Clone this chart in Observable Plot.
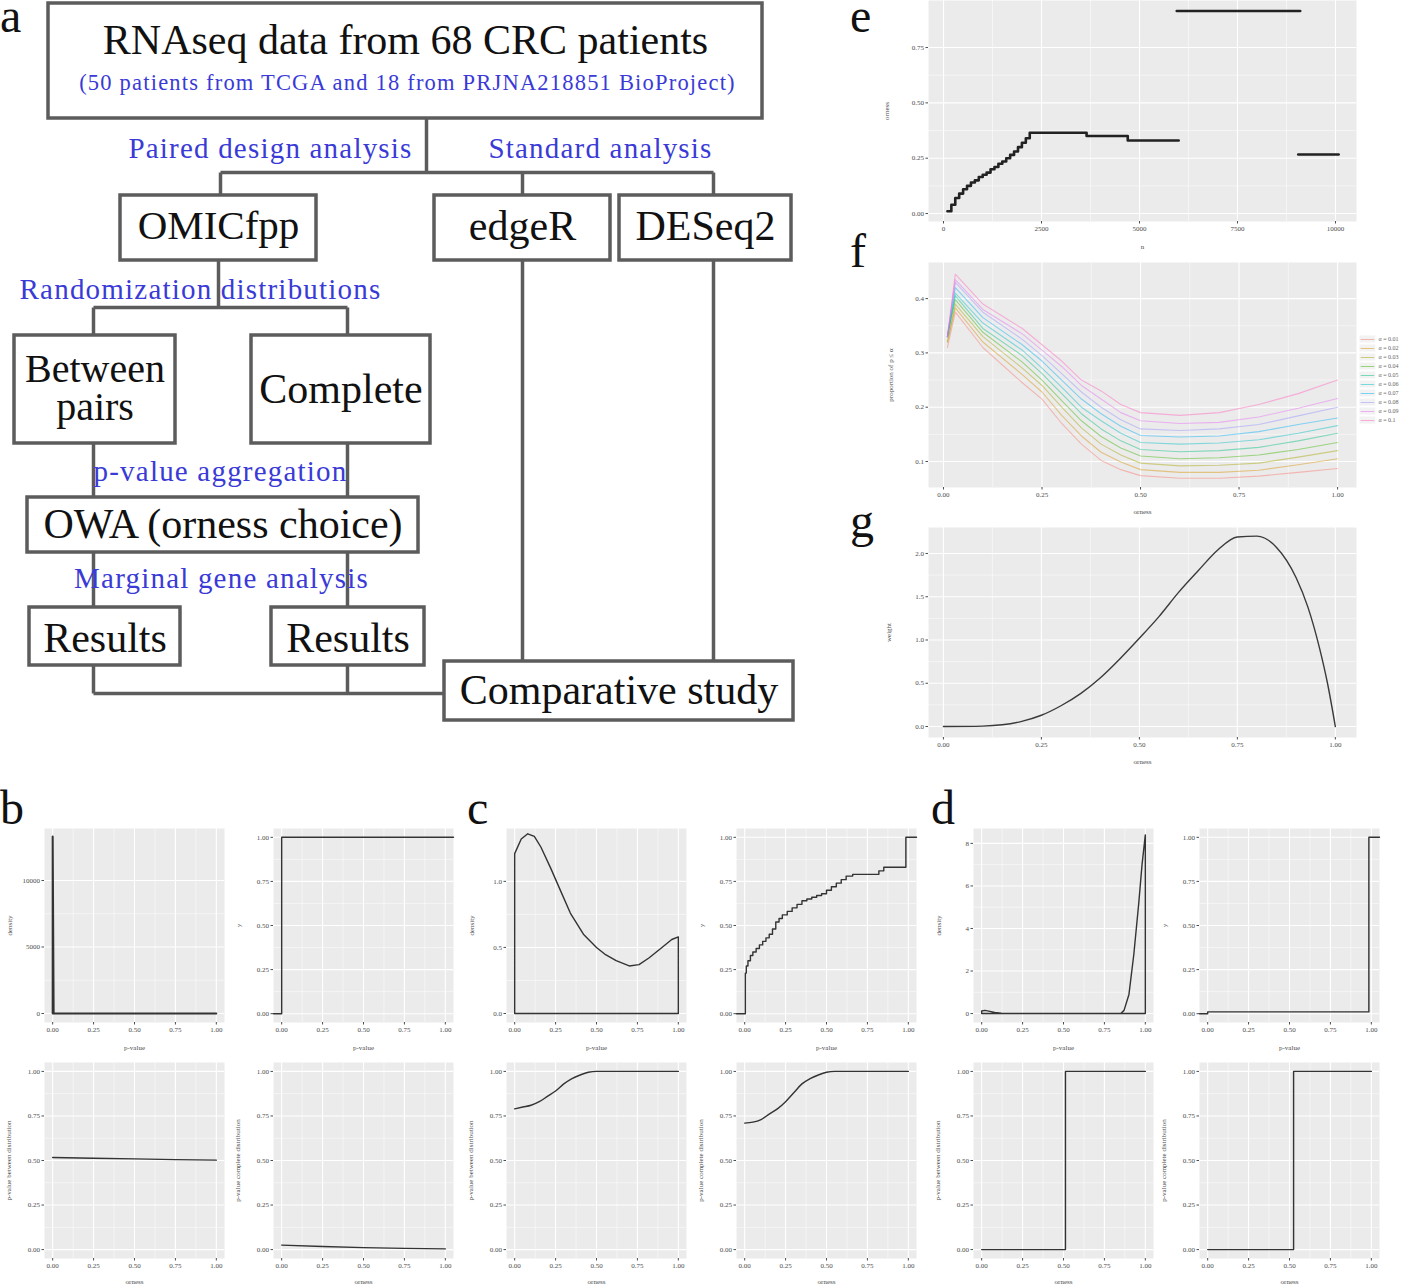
<!DOCTYPE html>
<html><head><meta charset="utf-8">
<script src="https://cdn.jsdelivr.net/npm/d3@7"></script>
<script src="https://cdn.jsdelivr.net/npm/@observablehq/plot@0.6"></script>
<style>
body{margin:0;background:#fff;}
#fig{position:relative;width:1415px;height:1285px;overflow:hidden;background:#fff;}
.lab{position:absolute;font-family:"Liberation Serif",serif;font-size:48px;line-height:0.6;color:#111;}
g[fill="#3a3ad6"] text{letter-spacing:1.2px;}
</style></head>
<body><div id="fig"></div>
<script>
// ---------- Panel a: flowchart ----------
const boxLabels = ["RNAseq data from 68 CRC patients","OMICfpp","edgeR","DESeq2","Between\npairs","Complete","OWA (orness choice)","Results","Results","Comparative study"];
const subtitleText = "(50 patients from TCGA and 18 from PRJNA218851 BioProject)";
const stepLabels = ["Paired design analysis","Standard analysis","Randomization distributions","p-value aggregation","Marginal gene analysis"];
// layout (pixel grid of the flowchart)
const layoutBox = [[48,762,3,118],[120,316,195,260],[434,610,195,260],[619,791,195,260],[14,175,335,443],[251,430,335,443],[27,418,497,552],[29,180,607,665],[271,424,607,665],[444,793,661,720]];
const layoutBoxTextY = [40,226,226,226,388,389,524,638,638,690];
const layoutBoxFont = [42,41,42,42,40,42,42,42,42,42];
const layoutStep = [[270,148],[600,148],[200,289],[220,471],[221,578]];
const layoutSubtitle = [407,82];
const layoutLinks = [[426,118,426,172],[220,172,713,172],[220,172,220,195],[522,172,522,195],[713,172,713,195],
  [218,260,218,307],[93,307,347,307],[93,307,93,335],[347,307,347,335],[93,443,93,497],[347,443,347,497],
  [93,552,93,607],[347,552,347,607],[93,665,93,693],[347,665,347,693],[93,693,444,693],[522,260,522,661],[713,260,713,661]];

// ---------- Panel b ----------
const pTicks = [0,0.25,0.5,0.75,1];
const bDensityX = [0,0,0.006,1];
const bDensityY = [0,13300,0,0];
const bEcdfX = [-0.05,0,1.05];
const bEcdfY = [0,1,1];
const bOrness = [0,0.25,0.5,0.75,1];
const bBetween = [0.517,0.513,0.509,0.505,0.502];
const bComplete = [0.025,0.017,0.011,0.007,0.004];

// ---------- Panel c ----------
const cDensityX = [0,0,0.04,0.08,0.12,0.16,0.22,0.28,0.34,0.42,0.5,0.55,0.62,0.7,0.76,0.82,0.9,0.96,1,1,0];
const cDensityY = [0,1.21,1.32,1.36,1.34,1.26,1.1,0.93,0.76,0.6,0.5,0.45,0.4,0.36,0.37,0.42,0.5,0.56,0.58,0,0];
const cEcdfX = [-0.05,0.004,0.01,0.02,0.035,0.05,0.07,0.09,0.11,0.13,0.15,0.17,0.19,0.21,0.23,0.26,0.29,0.32,0.35,0.38,0.41,0.44,0.47,0.5,0.53,0.56,0.59,0.62,0.66,0.82,0.85,0.985,1.05];
const cEcdfY = [0,0.23,0.27,0.3,0.33,0.35,0.37,0.39,0.41,0.43,0.45,0.48,0.52,0.54,0.56,0.58,0.6,0.62,0.64,0.65,0.66,0.67,0.68,0.7,0.72,0.74,0.76,0.78,0.79,0.81,0.83,1,1];
const cOrness = [0,0.05,0.1,0.15,0.2,0.25,0.3,0.35,0.4,0.45,0.5,0.55,0.75,1];
const cBetween = [0.79,0.8,0.81,0.83,0.86,0.89,0.93,0.96,0.98,0.995,1,1,1,1];
const cComplete = [0.71,0.715,0.73,0.76,0.79,0.83,0.88,0.93,0.96,0.98,0.995,1,1,1];

// ---------- Panel d ----------
const dDensityX = [0,0,0.02,0.05,0.08,0.12,0.2,0.5,0.85,0.87,0.9,0.93,0.96,0.98,1,1,0];
const dDensityY = [0,0.12,0.15,0.1,0.05,0.02,0,0,0,0.15,0.9,2.8,5.2,7.0,8.4,0,0];
const dEcdfX = [-0.05,0,0.985,1.05];
const dEcdfY = [0,0.01,1,1];
const dBetweenX = [0,0.512,1];
const dBetweenY = [0,1,1];
const dCompleteX = [0,0.525,1];
const dCompleteY = [0,1,1];

// ---------- Panel e ----------
const eSegment = [1,1,1,1,1,1,1,1,1,1,1,1,1,1,1,1,1,1,1,1,1,1,1,1,1,1,2,2,3,3];
const eN = [100,200,300,400,500,600,700,800,900,1000,1100,1200,1300,1400,1500,1600,1700,1800,1900,2000,2100,2200,3650,4700,6000,6000,5950,9100,9050,10080];
const eOrness = [0.01,0.04,0.07,0.09,0.11,0.125,0.14,0.15,0.165,0.175,0.185,0.2,0.21,0.225,0.235,0.25,0.265,0.28,0.3,0.32,0.34,0.365,0.35,0.33,0.33,0.33,0.915,0.915,0.267,0.267];

// ---------- Panel f ----------
const fOrness = [0.01,0.03,0.1,0.2,0.25,0.3,0.35,0.4,0.45,0.5,0.6,0.7,0.8,0.9,1.0];
const alphaLabels = ["α = 0.01","α = 0.02","α = 0.03","α = 0.04","α = 0.05","α = 0.06","α = 0.07","α = 0.08","α = 0.09","α = 0.1"];
const fA01 = [0.31,0.375,0.31,0.245,0.215,0.17,0.132,0.102,0.085,0.074,0.069,0.069,0.073,0.08,0.087];
const fA02 = [0.32,0.383,0.32,0.26,0.228,0.185,0.147,0.117,0.099,0.085,0.08,0.08,0.084,0.094,0.105];
const fA03 = [0.32,0.39,0.33,0.272,0.24,0.2,0.162,0.132,0.112,0.097,0.092,0.093,0.097,0.108,0.12];
const fA04 = [0.33,0.398,0.338,0.283,0.25,0.212,0.175,0.146,0.125,0.11,0.105,0.107,0.112,0.122,0.135];
const fA05 = [0.33,0.405,0.345,0.295,0.262,0.225,0.188,0.16,0.138,0.122,0.118,0.12,0.126,0.138,0.152];
const fA06 = [0.33,0.41,0.355,0.305,0.272,0.237,0.2,0.175,0.152,0.135,0.132,0.134,0.14,0.152,0.166];
const fA07 = [0.33,0.42,0.365,0.315,0.285,0.25,0.215,0.188,0.165,0.148,0.145,0.147,0.155,0.168,0.18];
const fA08 = [0.33,0.43,0.375,0.325,0.295,0.262,0.228,0.2,0.177,0.16,0.157,0.16,0.168,0.184,0.2];
const fA09 = [0.33,0.435,0.38,0.335,0.305,0.275,0.24,0.215,0.19,0.175,0.17,0.172,0.182,0.198,0.216];
const fA10 = [0.33,0.445,0.39,0.345,0.315,0.285,0.25,0.23,0.205,0.19,0.185,0.19,0.205,0.225,0.25];
const fColors = ["#F8766D","#D89000","#A3A500","#39B600","#00BF7D","#00BFC4","#00B0F6","#9590FF","#E76BF3","#FF62BC"];

// ---------- Panel g ----------
const gOrness = [0,0.1,0.15,0.2,0.25,0.3,0.35,0.4,0.45,0.5,0.55,0.6,0.65,0.7,0.75,0.8,0.85,0.9,0.93,0.96,0.98,1.0];
const gWeight = [0,0.005,0.02,0.06,0.13,0.24,0.38,0.56,0.78,1.02,1.27,1.55,1.8,2.04,2.19,2.2,2.07,1.72,1.38,0.9,0.5,0];

// ================= drawing =================
const fig = document.getElementById("fig");
function place(node, left, top){ node.style.position="absolute"; node.style.left=left+"px"; node.style.top=top+"px"; fig.appendChild(node); }
function letter(t, left, top){ const d=document.createElement("div"); d.className="lab"; d.textContent=t; d.style.left=left+"px"; d.style.top=top+"px"; fig.appendChild(d); }
const FONT = "Liberation Serif";
const LINE = "#333333";

function minor(ticks){ const m=[]; for(let i=0;i<ticks.length-1;i++) m.push((ticks[i]+ticks[i+1])/2); return m; }

function gg(o){
  const ml=o.ml??42, mb=o.mb??32, mt=o.mt??2, mr=o.mr??4;
  const svg = Plot.plot({
    width:o.w+ml+mr, height:o.h+mt+mb,
    marginLeft:ml, marginRight:mr, marginTop:mt, marginBottom:mb,
    style:{fontFamily:FONT, fontSize:(o.fs??7)+"px", color:"#4d4d4d", background:"transparent", overflow:"visible"},
    x:{domain:o.xDomain}, y:{domain:o.yDomain}, color:o.color,
    marks:[
      Plot.frame({fill:"#ebebeb", stroke:"none"}),
      Plot.gridX(minor(o.xTicks),{stroke:"#fff", strokeOpacity:1, strokeWidth:0.5}),
      Plot.gridY(minor(o.yTicks),{stroke:"#fff", strokeOpacity:1, strokeWidth:0.5}),
      Plot.gridX(o.xTicks,{stroke:"#fff", strokeOpacity:1, strokeWidth:1.1}),
      Plot.gridY(o.yTicks,{stroke:"#fff", strokeOpacity:1, strokeWidth:1.1}),
      Plot.axisX(o.xTicks,{tickFormat:o.xFmt, tickSize:2.5, tickPadding:2, label:o.xLabel, labelAnchor:"center", labelOffset:o.xlo??27, labelArrow:"none"}),
      Plot.axisY(o.yTicks,{tickFormat:o.yFmt, tickSize:2.5, tickPadding:2, label:o.yLabel, labelAnchor:"center", labelOffset:o.ylo??37, labelArrow:"none"}),
      ...o.marks
    ]
  });
  place(svg, o.left-ml, o.top-mt);
  return svg;
}
const f2 = d3.format(".2f"), f1 = d3.format(".1f"), fInt = d3.format("d");
const ln = (xs, ys, extra={}) => Plot.line(xs, {x:xs, y:ys, stroke:LINE, strokeWidth:1.4, ...extra});

// ---- flowchart ----
const boxes = boxLabels.map((t,i)=>({label:t, x1:layoutBox[i][0], x2:layoutBox[i][1], y1:layoutBox[i][2], y2:layoutBox[i][3], ty:layoutBoxTextY[i], fs:layoutBoxFont[i]}));
const steps = stepLabels.map((t,i)=>({label:t, x:layoutStep[i][0], y:layoutStep[i][1]}));
const links = layoutLinks.map(l=>({x1:l[0],y1:l[1],x2:l[2],y2:l[3]}));
const flow = Plot.plot({
  width:800, height:725, margin:0,
  x:{domain:[0,800], range:[0,800], axis:null},
  y:{domain:[0,725], range:[0,725], axis:null},
  style:{fontFamily:FONT, background:"transparent", overflow:"visible"},
  marks:[
    Plot.link(links,{x1:"x1",y1:"y1",x2:"x2",y2:"y2", stroke:"#5c5c5c", strokeWidth:3.5}),
    Plot.rect(boxes,{x1:"x1",x2:"x2",y1:"y1",y2:"y2", fill:"#fff", stroke:"#5c5c5c", strokeWidth:3.5}),
    Plot.text(boxes,{x:d=>(d.x1+d.x2)/2, y:"ty", text:"label", fontSize:"fs", lineHeight:0.97, fill:"#111"}),
    Plot.text([subtitleText],{x:layoutSubtitle[0], y:layoutSubtitle[1], text:d=>d, fontSize:22.5, fill:"#3a3ad6"}),
    Plot.text(steps,{x:"x", y:"y", text:"label", fontSize:29, fill:"#3a3ad6"})
  ]
});
place(flow,0,0);

// ---- small panels b, c, d ----
const topY = 828, topH = 194, botY = 1062, botH = 196, W = 180, XD = [-0.05,1.05], PD = [-0.05,1.05];
const cfgTop = (left, yLabel, yDomain, yTicks, yFmt, marks) => gg({left, top:topY, w:W, h:topH, xDomain:XD, yDomain, xTicks:pTicks, yTicks, xFmt:f2, yFmt, xLabel:"p-value", yLabel, marks});
const cfgBot = (left, yLabel, marks) => gg({left, top:botY, w:W, h:botH, xDomain:XD, yDomain:PD, xTicks:pTicks, yTicks:pTicks, xFmt:f2, yFmt:f2, xLabel:"orness", yLabel, xlo:25, ylo:38, marks});

cfgTop(44, "density", [-677,13910], [0,5000,10000], fInt, [ln(bDensityX,bDensityY,{strokeWidth:2})]);
cfgTop(273, "y", PD, pTicks, f2, [ln(bEcdfX,bEcdfY,{curve:"step-after"})]);
cfgBot(44, "p-value between distribution", [ln(bOrness,bBetween)]);
cfgBot(273, "p-value complete distribution", [ln(bOrness,bComplete)]);

cfgTop(506, "density", [-0.068,1.40], [0,0.5,1], f1, [ln(cDensityX,cDensityY)]);
cfgTop(736, "y", PD, pTicks, f2, [ln(cEcdfX,cEcdfY,{curve:"step-after"})]);
cfgBot(506, "p-value between distribution", [ln(cOrness,cBetween,{curve:"monotone-x"})]);
cfgBot(736, "p-value complete distribution", [ln(cOrness,cComplete,{curve:"monotone-x"})]);

cfgTop(973, "density", [-0.42,8.7], [0,2,4,6,8], fInt, [ln(dDensityX,dDensityY)]);
cfgTop(1199, "y", PD, pTicks, f2, [ln(dEcdfX,dEcdfY,{curve:"step-after"})]);
cfgBot(973, "p-value between distribution", [ln(dBetweenX,dBetweenY,{curve:"step-after"})]);
cfgBot(1199, "p-value complete distribution", [ln(dCompleteX,dCompleteY,{curve:"step-after"})]);

// ---- panel e ----
const eRows = eN.map((n,i)=>({n, orness:eOrness[i], seg:eSegment[i]}));
gg({left:928, top:0, w:428, h:221, mt:0, ml:50, mb:34, xDomain:[-383,10536], yDomain:[-0.036,0.9625],
  xTicks:[0,2500,5000,7500,10000], yTicks:[0,0.25,0.5,0.75], xFmt:fInt, yFmt:f2, xLabel:"n", yLabel:"orness", xlo:27, ylo:44,
  marks:[Plot.line(eRows,{x:"n", y:"orness", z:"seg", curve:"step-after", stroke:"#222", strokeWidth:2.6})]});

// ---- panel f ----
const fSeries = [fA01,fA02,fA03,fA04,fA05,fA06,fA07,fA08,fA09,fA10];
const fRows = [];
fSeries.forEach((s,i)=>s.forEach((v,j)=>fRows.push({orness:fOrness[j], p:v, alpha:alphaLabels[i]})));
gg({left:928, top:262, w:428, h:225, ml:50, mb:34, xDomain:[-0.038,1.048], yDomain:[0.0521,0.4665],
  xTicks:pTicks, yTicks:[0.1,0.2,0.3,0.4], xFmt:f2, yFmt:f1, xLabel:"orness", yLabel:"proportion of p ≤ α", xlo:26, ylo:40,
  color:{domain:alphaLabels, range:fColors},
  marks:[Plot.line(fRows,{x:"orness", y:"p", z:"alpha", stroke:"alpha", strokeOpacity:0.45, strokeWidth:1.1})]});
const legend = Plot.plot({
  width:56, height:96, margin:0,
  x:{domain:[0,1], axis:null}, y:{domain:alphaLabels, type:"band", axis:null, range:[0,96]},
  color:{domain:alphaLabels, range:fColors},
  style:{fontFamily:FONT, fontSize:"6px", color:"#555", background:"transparent", overflow:"visible"},
  marks:[
    Plot.rect(alphaLabels,{y:d=>d, x1:0, x2:0.3, fill:"#f2f2f2", inset:0.5}),
    Plot.ruleY(alphaLabels,{y:d=>d, x1:0.03, x2:0.27, stroke:d=>d, strokeOpacity:0.5}),
    Plot.text(alphaLabels,{y:d=>d, x:0.34, text:d=>d, textAnchor:"start", fill:"#666"})
  ]
});
place(legend,1359,332);

// ---- panel g ----
gg({left:928, top:527, w:428, h:210, ml:50, mb:34, xDomain:[-0.038,1.054], yDomain:[-0.127,2.30],
  xTicks:pTicks, yTicks:[0,0.5,1,1.5,2], xFmt:f2, yFmt:f1, xLabel:"orness", yLabel:"weight", xlo:26, ylo:42,
  marks:[Plot.line(gOrness,{x:gOrness, y:gWeight, curve:"monotone-x", stroke:"#3a3a3a", strokeWidth:1.4})]});

// ---- panel letters ----
letter("a",0,2); letter("e",850,2); letter("f",850,237); letter("g",850,507);
letter("b",0,794); letter("c",467,794); letter("d",931,794);
</script></body></html>
